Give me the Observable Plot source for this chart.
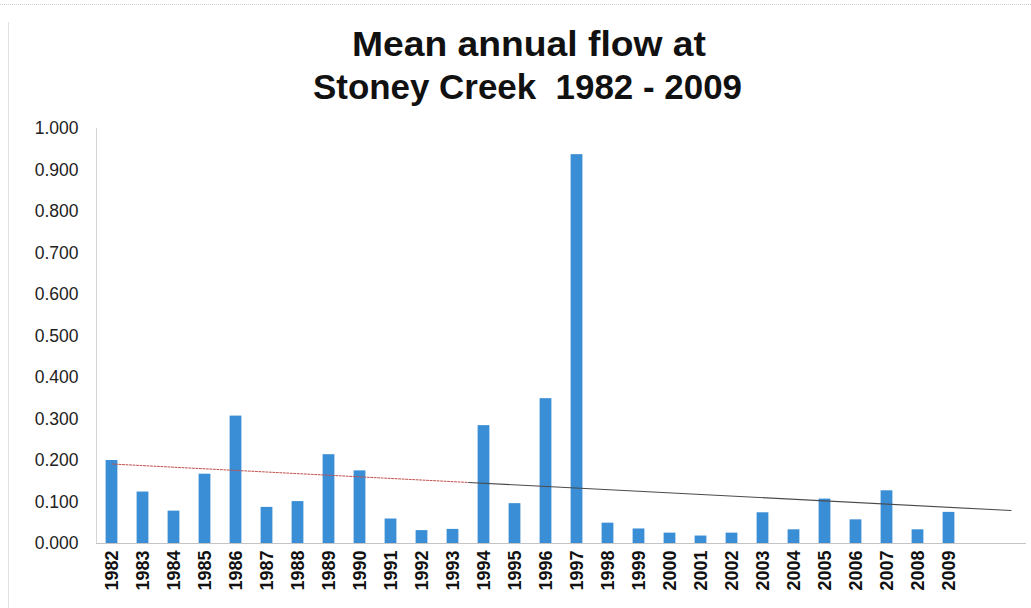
<!DOCTYPE html>
<html>
<head>
<meta charset="utf-8">
<script src="https://cdn.jsdelivr.net/npm/d3@7"></script>
<script src="https://cdn.jsdelivr.net/npm/@observablehq/plot@0.6"></script>
<style>
  html, body { margin: 0; padding: 0; background: #fff; }
  #page { position: relative; width: 1031px; height: 608px; overflow: hidden; background: #fff; }
  #frameTop { position: absolute; left: 0; top: 4px; width: 1031px; border-top: 1px dotted #cfcfcf; }
  #frameLeft { position: absolute; left: 8px; top: 22px; height: 590px; border-left: 1px solid #e2e2e2; }
  #title { position: absolute; left: 0; top: 0; }
  #chart { position: absolute; left: 0; top: 115px; }
</style>
</head>
<body>
<div id="page">
  <div id="frameTop"></div>
  <div id="frameLeft"></div>
  <svg id="title" width="1031" height="115" xmlns="http://www.w3.org/2000/svg"
       font-family="'Liberation Sans', Arial, sans-serif" font-weight="bold" fill="#111">
    <text x="352" y="56" font-size="35" textLength="354" lengthAdjust="spacingAndGlyphs">Mean annual flow at</text>
    <text x="313" y="99" font-size="35" textLength="429" lengthAdjust="spacingAndGlyphs" xml:space="preserve">Stoney Creek  1982 - 2009</text>
  </svg>
  <div id="chart"></div>
</div>
<script>
// ---- data ----
const years = [1982, 1983, 1984, 1985, 1986, 1987, 1988, 1989, 1990, 1991,
               1992, 1993, 1994, 1995, 1996, 1997, 1998, 1999, 2000, 2001,
               2002, 2003, 2004, 2005, 2006, 2007, 2008, 2009];
const flow = [0.200, 0.124, 0.078, 0.167, 0.307, 0.087, 0.101, 0.214, 0.175, 0.059,
              0.031, 0.034, 0.284, 0.096, 0.349, 0.937, 0.049, 0.035, 0.025, 0.018,
              0.025, 0.074, 0.033, 0.107, 0.057, 0.127, 0.033, 0.075];
const yTicks = [0, 0.1, 0.2, 0.3, 0.4, 0.5, 0.6, 0.7, 0.8, 0.9, 1.0];
const trendStart = 1982, trendSplit = 1993.5, trendEnd = 2011; // linear trend, forecast 2 periods forward

const data = years.map((year, i) => ({year, flow: flow[i]}));

// least-squares linear trend
const mx = d3.mean(years), my = d3.mean(flow);
const slope = d3.sum(years, (x, i) => (x - mx) * (flow[i] - my)) / d3.sum(years, x => (x - mx) ** 2);
const intercept = my - slope * mx;
const trend = x => ({x, y: intercept + slope * x});
const trendA = [trend(trendStart), trend(trendSplit)];
const trendB = [trend(trendSplit), trend(trendEnd)];

const chart = Plot.plot({
  width: 1031,
  height: 493,
  marginTop: 13,
  marginBottom: 65,
  marginLeft: 96,
  marginRight: 5,
  style: {fontFamily: "'Liberation Sans', Arial, sans-serif", background: "transparent", color: "#222"},
  x: {domain: [1981.5, 2011.5]},
  y: {domain: [0, 1]},
  marks: [
    Plot.ruleX([1981.5], {y1: 0, y2: 1, stroke: "#d4d4d4", strokeWidth: 1}),
    Plot.rectY(data, {x1: d => d.year - 0.19, x2: d => d.year + 0.19, y: "flow", fill: "#3a8ed6"}),
    Plot.ruleY([0], {stroke: "#c4c4c4", strokeWidth: 1}),
    Plot.line(trendA, {x: "x", y: "y", stroke: "#c0504d", strokeWidth: 1, strokeDasharray: "2,1.5"}),
    Plot.line(trendB, {x: "x", y: "y", stroke: "#4a4a4a", strokeWidth: 1.1}),
    Plot.axisY(yTicks, {tickSize: 0, tickPadding: 18, tickFormat: d3.format(".3f"), fontSize: 17.5, label: null, fill: "#222"}),
    Plot.axisX(years, {tickSize: 0, tickPadding: 7, tickRotate: -90, tickFormat: d => String(d), fontSize: 18, fontWeight: "bold", label: null, fill: "#111"})
  ]
});
document.getElementById("chart").appendChild(chart);
</script>
</body>
</html>
